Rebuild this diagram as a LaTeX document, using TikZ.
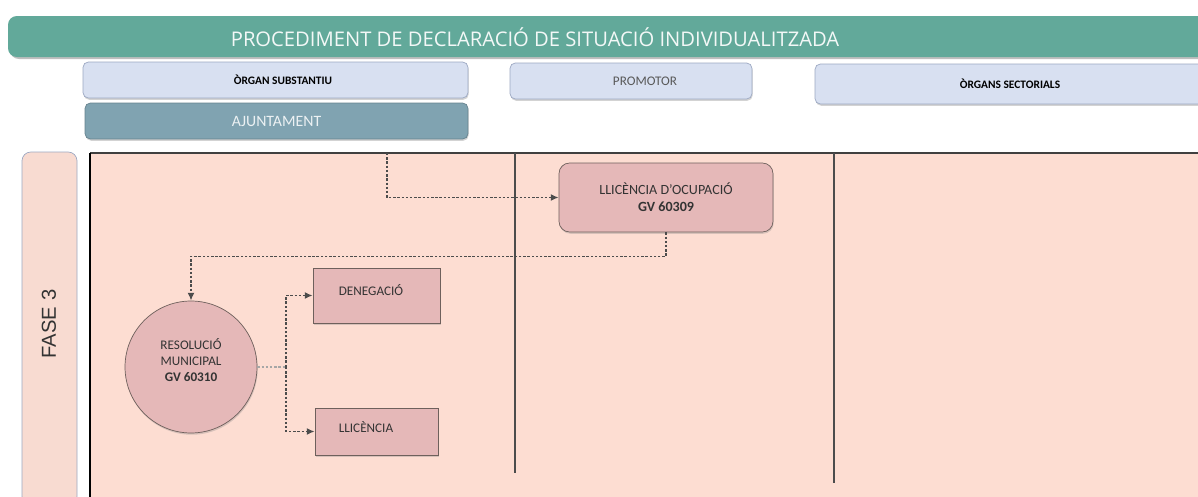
\documentclass[tikz,border=0pt]{standalone}
\usepackage{fontspec}
\setmainfont{Carlito}
\newfontfamily\titlefont{Open Sans}
\newfontfamily\arialfont{Liberation Sans}
\usetikzlibrary{arrows.meta,shadows}
\definecolor{bartl}{HTML}{62A99A}
\definecolor{lanehd}{HTML}{D8E0F1}
\definecolor{lanebd}{HTML}{9CA8C2}
\definecolor{ajunt}{HTML}{80A3B1}
\definecolor{poolpk}{HTML}{FDDDD2}
\definecolor{fasepk}{HTML}{F8DBD1}
\definecolor{taskpk}{HTML}{E5B8B8}
\definecolor{taskbd}{HTML}{6E605C}
\newcommand\nudge[3]{\hspace*{#1}\raisebox{#2}{#3}}
\tikzset{
  head/.style={draw=lanebd, fill=lanehd, rounded corners=3pt, minimum height=0.72cm,
    drop shadow={shadow xshift=0.4pt, shadow yshift=-1pt, opacity=0.35}},
  task/.style={draw=taskbd, fill=taskpk, text=black!80, font=\fontsize{7.5}{9}\selectfont,
    drop shadow={shadow xshift=0.4pt, shadow yshift=-1pt, opacity=0.3}},
  flow/.style={draw=black!70, dash pattern=on 1.4pt off 1pt, line width=0.9pt, -{Latex[length=4.5pt,width=4pt]}},
  lane/.style={draw=black!70, line width=1pt}
}
\begin{document}
\begin{tikzpicture}[x=0.02cm,y=-0.02cm]
\useasboundingbox (0,0) rectangle (1198,497);

% title
\fill[black!25, rounded corners=5pt] (10,19) rectangle (1230,59);
\fill[bartl, rounded corners=5pt] (8,16) rectangle (1230,57);
\node[text=white!92!bartl, font=\titlefont\fontsize{11.5}{13}\selectfont] (title) at (535,37) {PROCEDIMENT DE DECLARACIÓ DE SITUACIÓ INDIVIDUALITZADA};

% lanes
\node[head, minimum width=7.7cm, font=\bfseries\fontsize{6.5}{8}\selectfont] (subst) at (275.5,80) {\nudge{0.3cm}{0pt}{ÒRGAN SUBSTANTIU}};
\node[head, minimum width=4.84cm, text=black!65, font=\fontsize{7.5}{9}\selectfont] (prom) at (631,81) {\nudge{0.56cm}{0pt}{PROMOTOR}};
\node[head, minimum width=8.4cm, minimum height=0.8cm, font=\bfseries\fontsize{6.5}{8}\selectfont] (sect) at (1025,84) {\nudge{-0.6cm}{0pt}{ÒRGANS SECTORIALS}};
\node[head, draw=ajunt!80!black, fill=ajunt, minimum width=7.66cm, text=white!85!ajunt, font=\fontsize{9}{10}\selectfont] (ajun) at (276.5,121) {AJUNTAMENT};

% pool
\fill[poolpk] (90,153) rectangle (1198,497);
\draw[black!75, line width=0.8pt] (90,153) -- (1198,153);
\draw[lanebd, fill=fasepk, rounded corners=5pt] (22,152) rectangle (77,505);
\node[rotate=90, text=black!80, font=\arialfont\fontsize{11.5}{13}\selectfont] (fase) at (49,324) {FASE 3};
\draw[black, line width=1.6pt] (90,153) -- (90,497);
\draw[lane] (515,153) -- (515,473);
\draw[lane] (834,153) -- (834,483);

% tasks
\node[task, rounded corners=6pt, minimum width=4.28cm, minimum height=1.38cm, align=center, font=\fontsize{8}{9.5}\selectfont] (ocup) at (666,197.5) {LLICÈNCIA D'OCUPACIÓ\\\textbf{GV 60309}};
\node[task, circle, minimum size=2.64cm] (resol) at (191,367) {\raisebox{0.28cm}{\shortstack{RESOLUCIÓ\\[1pt]MUNICIPAL\\[1pt]\textbf{GV 60310}}}};
\node[task, minimum width=2.54cm, minimum height=1.1cm] (den) at (376.5,295.5) {\nudge{-0.22cm}{0.22cm}{DENEGACIÓ}};
\node[task, minimum width=2.46cm, minimum height=0.94cm] (lic) at (376.5,431.5) {\nudge{-0.42cm}{0.18cm}{LLICÈNCIA}};

% flows
\coordinate (in) at (387,153);
\coordinate (br) at (286,367);
\draw[flow] (in) |- (ocup.west); % in-ocup
\draw[flow] (ocup.south) -- ++(0,24) -| (resol.north); % ocup-resol
\draw[draw=black!35, dash pattern=on 1.4pt off 1pt, line width=0.9pt] (resol.east) -- (br);
\draw[flow] (br) |- (den.west);
\draw[flow] (br) |- (lic.west);
\end{tikzpicture}
\end{document}
